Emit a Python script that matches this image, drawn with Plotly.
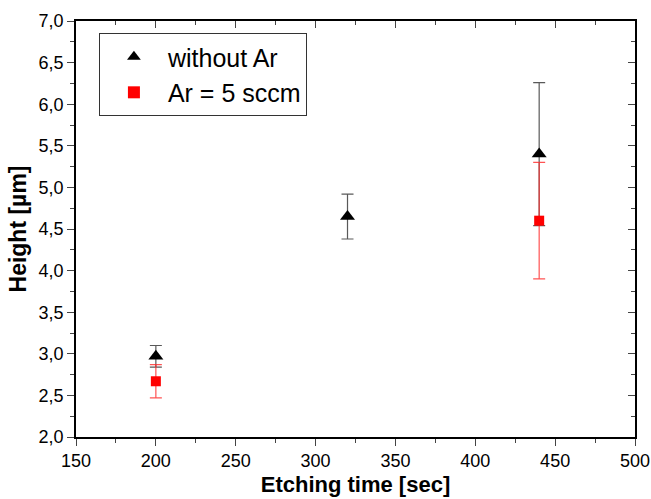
import plotly.graph_objects as go

# Etching time vs. height
time_no_ar = [200, 320, 440]
height_no_ar = [2.97, 4.65, 5.40]
err_no_ar = [0.13, 0.27, 0.86]

time_ar = [200, 440]
height_ar = [2.67, 4.60]
err_ar = [0.20, 0.70]

x_ticks = [150, 200, 250, 300, 350, 400, 450, 500]
y_ticks = [2.0, 2.5, 3.0, 3.5, 4.0, 4.5, 5.0, 5.5, 6.0, 6.5, 7.0]

font = "Liberation Sans, Arial, sans-serif"

fig = go.Figure()
fig.add_trace(go.Scatter(
    x=time_no_ar, y=height_no_ar, mode="markers", name="without Ar",
    marker=dict(symbol="triangle-up", size=13, color="black"),
    error_y=dict(type="data", array=err_no_ar, color="rgba(60,60,60,0.85)",
                 thickness=1.2, width=6),
))
fig.add_trace(go.Scatter(
    x=time_ar, y=height_ar, mode="markers", name="Ar = 5 sccm",
    marker=dict(symbol="square", size=10, color="#ff0000"),
    error_y=dict(type="data", array=err_ar, color="rgba(255,40,40,0.8)",
                 thickness=1.2, width=6),
))
# helper trace so the top/right axes (inward ticks) get drawn
fig.add_trace(go.Scatter(x=[None], y=[None], xaxis="x2", yaxis="y2",
                         showlegend=False, hoverinfo="skip"))

fig.update_layout(
    width=651, height=499,
    margin=dict(l=76, r=16, t=21, b=62),
    paper_bgcolor="white", plot_bgcolor="white",
    separators=",.",
    font=dict(family=font, color="black"),
    xaxis=dict(
        range=[150, 500], tickvals=x_ticks, ticks="outside", ticklen=7,
        tickwidth=1.3, linecolor="black", linewidth=1.5, showline=True,
        showgrid=False, zeroline=False, tickfont=dict(size=18), automargin=False,
        minor=dict(ticks="outside", ticklen=4, tickwidth=1.2, dtick=25, showgrid=False),
        title=dict(text="<b>Etching time [sec]</b>", font=dict(size=22), standoff=6),
    ),
    yaxis=dict(
        range=[2.0, 7.0], tickvals=y_ticks, tickformat=".1f", ticks="outside",
        ticklen=7, tickwidth=1.3, linecolor="black", linewidth=1.5, showline=True,
        showgrid=False, zeroline=False, tickfont=dict(size=18), automargin=False,
        minor=dict(ticks="outside", ticklen=4, tickwidth=1.2, dtick=0.25, showgrid=False),
        title=dict(text="<b>Height [µm]</b>", font=dict(size=23), standoff=6),
    ),
    xaxis2=dict(
        overlaying="x", side="top", range=[150, 500], tickvals=x_ticks,
        ticks="inside", ticklen=7, tickwidth=1.3, showticklabels=False,
        linecolor="black", linewidth=1.5, showline=True, showgrid=False,
        zeroline=False,
        minor=dict(ticks="inside", ticklen=4, tickwidth=1.2, dtick=25, showgrid=False),
    ),
    yaxis2=dict(
        overlaying="y", side="right", range=[2.0, 7.0], tickvals=y_ticks,
        ticks="inside", ticklen=7, tickwidth=1.3, showticklabels=False,
        linecolor="black", linewidth=1.5, showline=True, showgrid=False,
        zeroline=False,
        minor=dict(ticks="inside", ticklen=4, tickwidth=1.2, dtick=0.25, showgrid=False),
    ),
    legend=dict(
        x=0.041, y=0.971, xanchor="left", yanchor="top",
        bordercolor="#333333", borderwidth=1, bgcolor="white",
        font=dict(size=25), itemsizing="constant", itemwidth=58,
        tracegroupgap=0,
    ),
)

# drop the default page margin so the figure sits at the window's corner
fig.write_html("out.html", config={"displayModeBar": False},
               post_script="document.body.style.margin='0';")
